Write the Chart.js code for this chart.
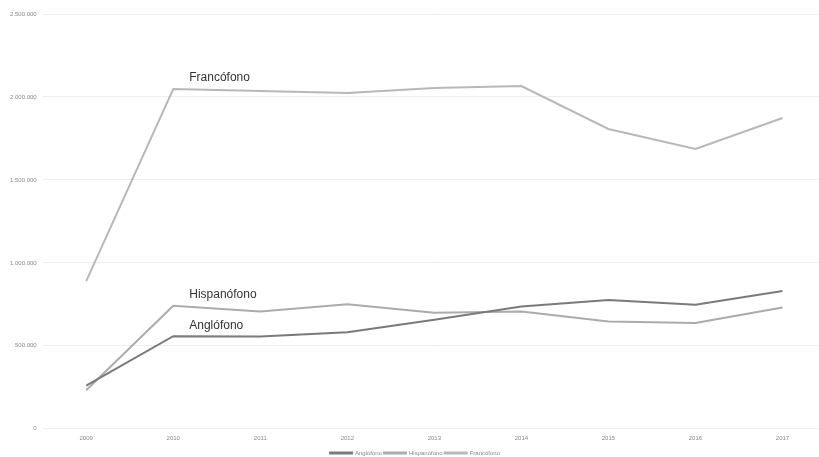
<!DOCTYPE html>
<html>
<head>
<meta charset="utf-8">
<script src="https://cdn.jsdelivr.net/npm/chart.js@4/dist/chart.umd.min.js"></script>
<style>
  html, body { margin: 0; padding: 0; background: #fff; overflow: hidden; }
  #wrap { width: 826px; height: 466px; }
</style>
</head>
<body>
<div id="wrap"><canvas id="chart"></canvas></div>
<script>
// Years and speakers per group
const years = ['2009', '2010', '2011', '2012', '2013', '2014', '2015', '2016', '2017'];
const anglofono = [260000, 558000, 556000, 582000, 657000, 737000, 777000, 747000, 831000];
const hispanofono = [232000, 741000, 707000, 751000, 700000, 707000, 646000, 637000, 731000];
const francofono = [890000, 2048000, 2036000, 2024000, 2054000, 2066000, 1807000, 1687000, 1873000];
const yTicks = [0, 500000, 1000000, 1500000, 2000000, 2500000];

// Names written next to the 2010 point of each line
const lineNames = {
    id: 'lineNames',
    afterDatasetsDraw(chart) {
        const ctx = chart.ctx;
        ctx.save();
        ctx.font = '12px "Liberation Sans", Arial, sans-serif';
        ctx.fillStyle = '#333';
        ctx.textBaseline = 'middle';
        chart.data.datasets.forEach((ds, i) => {
            const pt = chart.getDatasetMeta(i).data[1];
            ctx.fillText(ds.label, pt.x + 16, pt.y - 11);
        });
        ctx.restore();
    }
};

const ctx = document.getElementById('chart').getContext('2d');
new Chart(ctx, {
    type: 'line',
    data: {
        labels: years,
        datasets: [
            { label: 'Anglófono', data: anglofono, borderColor: '#7a7a7a', borderWidth: 2 },
            { label: 'Hispanófono', data: hispanofono, borderColor: '#ababab', borderWidth: 2 },
            { label: 'Francófono', data: francofono, borderColor: '#b8b8b8', borderWidth: 2 }
        ]
    },
    options: {
        responsive: true,
        maintainAspectRatio: false,
        animation: false,
        elements: { point: { radius: 0 }, line: { tension: 0 } },
        layout: { padding: { top: 14, left: 4, bottom: 0 } },
        plugins: {
            legend: {
                position: 'bottom',
                labels: {
                    boxWidth: 22,
                    boxHeight: 1,
                    padding: 2,
                    color: '#888',
                    font: { size: 6 }
                }
            },
            tooltip: { enabled: false }
        },
        scales: {
            x: {
                offset: true,
                grid: { display: false, drawTicks: false },
                border: { display: false },
                ticks: { color: '#888', font: { size: 6 }, padding: 6 }
            },
            y: {
                min: 0,
                max: 2500000,
                afterBuildTicks(axis) {
                    axis.ticks = yTicks.map(v => ({ value: v }));
                },
                grid: { color: '#eeeeee', drawTicks: false },
                border: { display: false },
                ticks: {
                    color: '#888',
                    font: { size: 6 },
                    padding: 6,
                    callback: v => v.toLocaleString('de-DE')
                }
            }
        }
    },
    plugins: [lineNames]
});
</script>
</body>
</html>
